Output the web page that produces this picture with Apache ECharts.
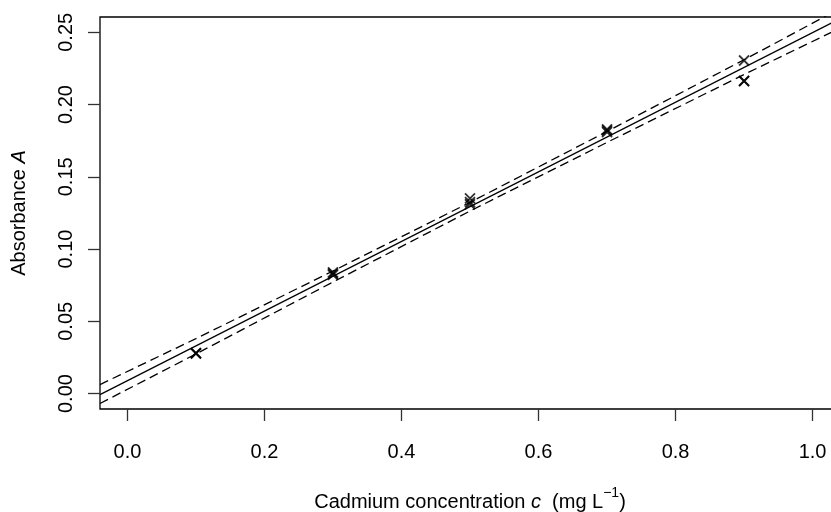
<!DOCTYPE html>
<html>
<head>
<meta charset="utf-8">
<script src="https://cdn.jsdelivr.net/npm/echarts@6/dist/echarts.min.js"></script>
<style>
  html, body { margin: 0; padding: 0; background: #fff; }
  #chart { width: 831px; height: 512px; }
</style>
</head>
<body>
<div id="chart"></div>
<script>
// calibration standards, 3 replicates per concentration
const concentrations = [0.1, 0.1, 0.1, 0.3, 0.3, 0.3, 0.5, 0.5, 0.5, 0.7, 0.7, 0.7, 0.9, 0.9, 0.9]
const absorbances = [0.0280, 0.0280, 0.0277, 0.0822, 0.0830, 0.0838, 0.1310, 0.1325, 0.1350, 0.1810, 0.1820, 0.1828, 0.2305, 0.2163, 0.2163]

// fitted line and confidence band
const fitX = [-0.04, 1.04]
const fitY = [-0.0007, 0.2595]
const bandX = [-0.04, 0.1, 0.3, 0.5, 0.7, 0.9, 1.04]
const bandUpper = [0.0062, 0.0380, 0.0848, 0.1323, 0.1814, 0.2310, 0.2665]
const bandLower = [-0.0069, 0.0274, 0.0772, 0.1263, 0.1738, 0.2208, 0.2529]

const xTicks = [0, 0.2, 0.4, 0.6, 0.8, 1.0]
const yTicks = [0, 0.05, 0.10, 0.15, 0.20, 0.25]

const font = '"Liberation Sans", Arial, Helvetica, sans-serif'
const zip = (xs, ys) => xs.map((x, i) => [x, ys[i]])

const option = {
  animation: false,
  backgroundColor: '#fff',
  textStyle: { fontFamily: font },
  grid: {
    left: 100,
    top: 17,
    width: 740,
    height: 392,
    show: true,
    borderColor: '#000',
    borderWidth: 1.3,
    containLabel: false,
    outerBoundsMode: 'none'
  },
  xAxis: {
    type: 'value',
    min: -0.04,
    max: 1.04,
    splitLine: { show: false },
    axisLine: { show: false, onZero: false },
    axisTick: { show: true, length: 12, customValues: xTicks, lineStyle: { color: '#333', width: 1.3 } },
    axisLabel: {
      customValues: xTicks,
      margin: 33,
      fontSize: 20,
      color: '#000',
      fontFamily: font,
      formatter: v => v.toFixed(1)
    },
    name: '{n|Cadmium concentration }{i|c}{n|  (mg L}{s|−1}{n|)}',
    nameLocation: 'middle',
    nameGap: 77,
    nameTextStyle: {
      rich: {
        n: { fontSize: 20, color: '#000', fontFamily: font, lineHeight: 26, verticalAlign: 'bottom' },
        i: { fontSize: 20, color: '#000', fontFamily: font, fontStyle: 'italic', lineHeight: 26, verticalAlign: 'bottom' },
        s: { fontSize: 14, color: '#000', fontFamily: font, lineHeight: 14, verticalAlign: 'top' }
      }
    }
  },
  yAxis: {
    type: 'value',
    min: -0.0107,
    max: 0.2606,
    splitLine: { show: false },
    axisLine: { show: false, onZero: false },
    axisTick: { show: true, length: 12, customValues: yTicks, lineStyle: { color: '#333', width: 1.3 } },
    axisLabel: {
      customValues: yTicks,
      rotate: 90,
      margin: 24,
      fontSize: 20,
      color: '#000',
      fontFamily: font,
      formatter: v => v.toFixed(2)
    },
    name: '{n|Absorbance }{i|A}',
    nameLocation: 'middle',
    nameRotate: 90,
    nameGap: 71,
    nameTextStyle: {
      rich: {
        n: { fontSize: 20, color: '#000', fontFamily: font },
        i: { fontSize: 20, color: '#000', fontFamily: font, fontStyle: 'italic' }
      }
    }
  },
  series: [
    {
      name: 'upper',
      type: 'line',
      data: zip(bandX, bandUpper),
      showSymbol: false,
      lineStyle: { color: '#000', width: 1.3, type: [9, 5] }
    },
    {
      name: 'lower',
      type: 'line',
      data: zip(bandX, bandLower),
      showSymbol: false,
      lineStyle: { color: '#000', width: 1.3, type: [9, 5] }
    },
    {
      name: 'fit',
      type: 'line',
      data: zip(fitX, fitY),
      showSymbol: false,
      lineStyle: { color: '#000', width: 1.3 }
    },
    {
      name: 'standards',
      type: 'scatter',
      data: zip(concentrations, absorbances),
      symbol: 'path://M0,0L10,10M10,0L0,10',
      symbolSize: 10,
      itemStyle: { color: 'rgba(0,0,0,0)', borderColor: '#000', borderWidth: 1.8 }
    }
  ]
}

const chart = echarts.init(document.getElementById('chart'), null, { renderer: 'canvas' })
chart.setOption(option)
</script>
</body>
</html>
